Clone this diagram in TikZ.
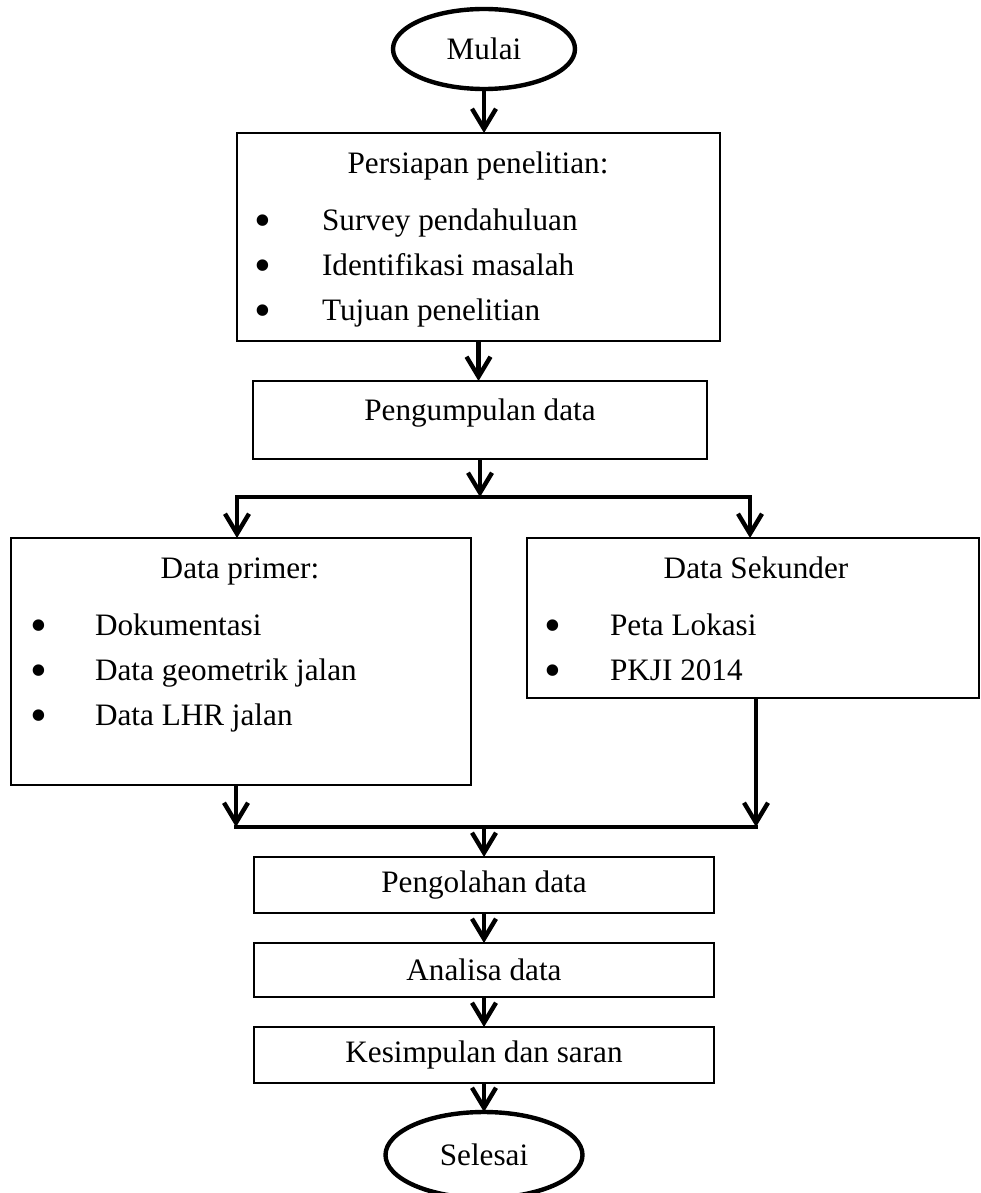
\documentclass[tikz,border=0pt]{standalone}
\usepackage{fontspec}
\setmainfont{Liberation Serif}
\usetikzlibrary{shapes.geometric}
\usetikzlibrary{arrows.meta}

\begin{document}
\begin{tikzpicture}[x=0.5pt,y=-0.5pt,font=\fontsize{15.6}{18}\selectfont,
box/.style={draw,rectangle,line width=0.8pt,inner sep=0pt,outer sep=0pt},
term/.style={draw,ellipse,line width=2.2pt,inner sep=0pt,outer sep=0pt},
dot/.style={anchor=base,yshift=-3pt,inner sep=0pt,font=\fontsize{24}{24}\selectfont},
arr/.style={line width=2.2pt,-{Straight Barb[length=10pt,width=12pt]}},
bar/.style={line width=2.4pt,line cap=rect}]
\useasboundingbox (0,0) rectangle (980,1193);
\draw
(484,49) node[term,minimum width=91pt,minimum height=40pt](mulai){Mulai}
(478.5,237) node[box,minimum width=241.5pt,minimum height=104pt](persiapan){}
(480,420) node[box,minimum width=227pt,minimum height=39pt](pengumpulan){}
(241,661.5) node[box,minimum width=230pt,minimum height=123.5pt](primer){}
(753,618) node[box,minimum width=226pt,minimum height=80pt](sekunder){}
(484,885) node[box,minimum width=230pt,minimum height=28pt](pengolahan){Pengolahan data}
(484,970) node[box,minimum width=230pt,minimum height=27pt](analisa){Analisa data}
(484,1055) node[box,minimum width=230pt,minimum height=28pt](kesimpulan){Kesimpulan dan saran}
(484,1155) node[term,minimum width=98.5pt,minimum height=43pt](selesai){Selesai}
;
%%% Box titles
\draw
(478,173) node[anchor=base](persiapanT){Persiapan penelitian:}
(480,420) node[anchor=base](pengumpulanT){Pengumpulan data}
(240,578) node[anchor=base](primerT){Data primer:}
(756,578) node[anchor=base](sekunderT){Data Sekunder}
;
%%% Bullet lists
\foreach \y/\t [count=\i] in {230/Survey pendahuluan, 275/Identifikasi masalah, 320/Tujuan penelitian}{
\draw (263,\y) node[dot](pb\i){•} (315,\y) node[anchor=base west](pt\i){\t};
}
\foreach \y/\t [count=\i] in {635/Dokumentasi, 680/Data geometrik jalan, 725/Data LHR jalan}{
\draw (39,\y) node[dot](db\i){•} (88,\y) node[anchor=base west](dt\i){\t};
}
\foreach \y/\t [count=\i] in {635/Peta Lokasi, 680/PKJI 2014}{
\draw (553,\y) node[dot](sb\i){•} (603,\y) node[anchor=base west](st\i){\t};
}
%%% Split and merge points
\coordinate (split) at (480,497);
\coordinate (splitL) at (237,497);
\coordinate (splitR) at (750,497);
\coordinate (mergeL) at (236,827);
\coordinate (mergeR) at (756,827);
\coordinate (merge) at (484,827);
%%% Connectors
\draw[arr](mulai.south) -- (mulai.south |- persiapan.north);
\draw[arr](persiapan.south) -- (persiapan.south |- pengumpulan.north);
\draw[arr](pengumpulan.south) -- (split);
\draw[bar](splitL) -- (splitR);
\draw[arr](splitL) -- (splitL |- primer.north);
\draw[arr](splitR) -- (splitR |- sekunder.north);
\draw[arr](primer.south -| mergeL) -- (mergeL);
\draw[arr](sekunder.south -| mergeR) -- (mergeR);
\draw[bar](mergeL) -- (mergeR);
\draw[arr](merge) -- (pengolahan.north);
\foreach \x/\y in {pengolahan/analisa, analisa/kesimpulan, kesimpulan/selesai}{
\draw[arr](\x) -- (\y);
}
\end{tikzpicture}
\end{document}
